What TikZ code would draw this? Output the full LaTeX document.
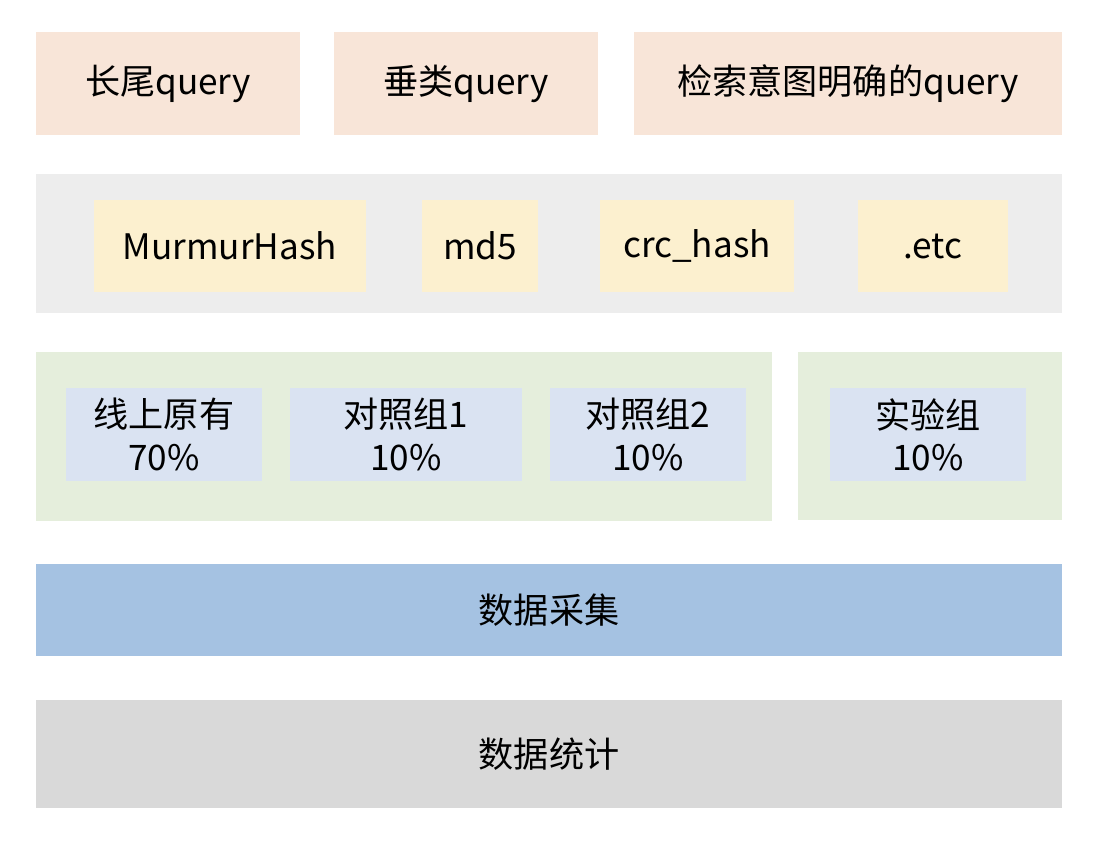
\documentclass[tikz,border=0pt]{standalone}
\usepackage{fontspec}
\setmainfont{Noto Sans CJK SC}
\usetikzlibrary{positioning}
\definecolor{querypeach}{HTML}{F8E5D8}
\definecolor{hashgray}{HTML}{EDEDED}
\definecolor{hashyellow}{HTML}{FCF0CF}
\definecolor{groupgreen}{HTML}{E5EEDC}
\definecolor{groupblue}{HTML}{DAE3F2}
\definecolor{collectblue}{HTML}{A5C2E2}
\definecolor{statgray}{HTML}{D9D9D9}
\tikzset{
  block/.style={inner sep=0pt, align=center, font=\fontsize{20}{24}\selectfont},
  query/.style={block, fill=querypeach, minimum height=2.06cm},
  hashbg/.style={block, fill=hashgray},
  hashfn/.style={block, fill=hashyellow, minimum height=1.84cm},
  groupbg/.style={block, fill=groupgreen},
  bucket/.style={block, fill=groupblue, minimum height=1.86cm, minimum width=3.92cm},
  layer/.style={block, minimum width=20.52cm}
}

\begin{document}
\begin{tikzpicture}
  \useasboundingbox (0,0) rectangle (21.96,-17);

  % query types
  \node[query, minimum width=5.28cm] (longtail) at (3.36,-1.67) {长尾query};
  \node[query, minimum width=5.28cm] (vertical) at (9.32,-1.67) {垂类query};
  \node[query, minimum width=8.56cm] (intent) at (16.96,-1.67) {检索意图明确的query};

  % hash functions
  \node[hashbg, minimum width=20.52cm, minimum height=2.78cm] (hashlayer) at (10.98,-4.87) {};
  \node[hashfn, minimum width=5.44cm] (murmur) at (4.6,-4.92) {MurmurHash};
  \node[hashfn, minimum width=2.32cm] (md5) at (9.6,-4.92) {md5};
  \node[hashfn, minimum width=3.88cm] (crc) at (13.94,-4.92) {crc\_hash};
  \node[hashfn, minimum width=3.0cm] (etc) at (18.66,-4.92) {.etc};

  % traffic split
  \node[groupbg, minimum width=14.72cm, minimum height=3.38cm] (basegroup) at (8.08,-8.73) {};
  \node[groupbg, minimum width=5.28cm, minimum height=3.36cm] (testgroup) at (18.6,-8.72) {};
  \node[bucket] (online) at (3.28,-8.69) {线上原有\\70\%};
  \node[bucket, minimum width=4.64cm] (controla) at (8.12,-8.69) {对照组1\\10\%};
  \node[bucket] (controlb) at (12.96,-8.69) {对照组2\\10\%};
  \node[bucket] (experiment) at (18.56,-8.69) {实验组\\10\%};

  % data layers
  \node[layer, fill=collectblue, minimum height=1.84cm] (collect) at (10.98,-12.2) {数据采集};
  \node[layer, fill=statgray, minimum height=2.16cm] (stats) at (10.98,-15.08) {数据统计};
\end{tikzpicture}
\end{document}
